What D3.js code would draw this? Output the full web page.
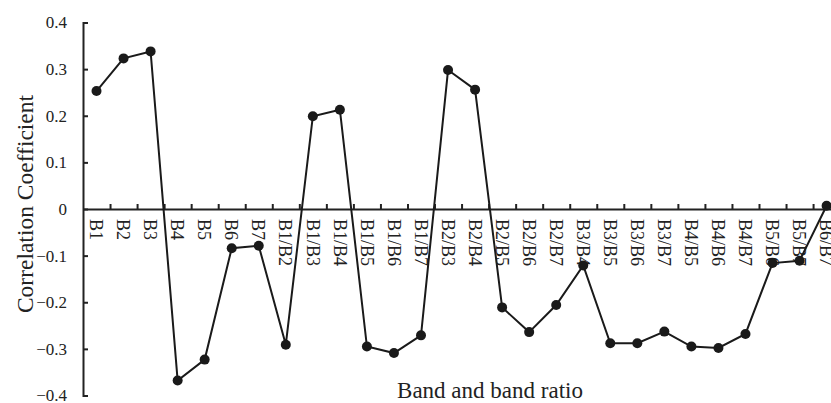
<!DOCTYPE html>
<html>
<head>
<meta charset="utf-8">
<script src="https://cdn.jsdelivr.net/npm/d3@7"></script>
<style>
  body { margin: 0; background: #fff; }
  svg { display: block; }
  text { font-family: "Liberation Serif", "Times New Roman", serif; fill: #222; }
  .axis path, .axis line { stroke: #222; stroke-width: 2; }
</style>
</head>
<body>
<script>
var categories = ["B1", "B2", "B3", "B4", "B5", "B6", "B7",
  "B1/B2", "B1/B3", "B1/B4", "B1/B5", "B1/B6", "B1/B7",
  "B2/B3", "B2/B4", "B2/B5", "B2/B6", "B2/B7",
  "B3/B4", "B3/B5", "B3/B6", "B3/B7",
  "B4/B5", "B4/B6", "B4/B7",
  "B5/B6", "B5/B7", "B6/B7"];
var values = [0.253, 0.323, 0.338, -0.368, -0.323, -0.084, -0.079,
  -0.291, 0.199, 0.213, -0.295, -0.309, -0.271,
  0.298, 0.256, -0.211, -0.264, -0.206,
  -0.121, -0.288, -0.288, -0.263,
  -0.295, -0.298, -0.268,
  -0.116, -0.111, 0.007];
var yTicks = [-0.4, -0.3, -0.2, -0.1, 0, 0.1, 0.2, 0.3, 0.4];

var width = 831, height = 403;
var left = 83, bandW = 27.04;

var svg = d3.select("body").append("svg")
  .attr("width", width)
  .attr("height", height);

var xScale = d3.scaleBand()
  .domain(categories)
  .range([left, left + categories.length * bandW])
  .padding(0);

var xEdges = d3.scaleLinear()
  .domain([0, categories.length])
  .range([left, left + categories.length * bandW]);

var yScale = d3.scaleLinear()
  .domain([-0.4, 0.4])
  .range([395.5, 22.5]);

// y axis, ticks pointing inward
svg.append("g")
  .attr("class", "y axis")
  .attr("transform", "translate(" + left + ",0)")
  .call(d3.axisLeft(yScale)
    .tickValues(yTicks)
    .tickSizeInner(-5)
    .tickSizeOuter(-5)
    .tickPadding(16)
    .tickFormat(function (d) { return d === 0 ? "0" : d3.format(".1f")(d); }))
  .selectAll("text")
  .style("font-family", "'Liberation Serif', serif")
  .style("font-size", "17px");

// boundary ticks on the zero line
svg.append("g")
  .attr("class", "x axis")
  .attr("transform", "translate(0," + yScale(0) + ")")
  .call(d3.axisBottom(xEdges)
    .tickValues(d3.range(1, categories.length + 1))
    .tickSizeInner(-5)
    .tickSizeOuter(0)
    .tickFormat(""));

// category labels, rotated
var xAxis = svg.append("g")
  .attr("class", "x axis labels")
  .attr("transform", "translate(0," + yScale(0) + ")")
  .call(d3.axisBottom(xScale).tickSize(0));
xAxis.select(".domain").remove();
xAxis.selectAll("text")
  .attr("transform", "rotate(90)")
  .attr("x", 10)
  .attr("y", 0)
  .attr("dy", "0.35em")
  .style("text-anchor", "start")
  .style("font-family", "'Liberation Serif', serif")
  .style("font-size", "18px");

var line = d3.line()
  .x(function (d, i) { return xScale(categories[i]) + xScale.bandwidth() / 2; })
  .y(function (d) { return yScale(d); });

svg.append("path")
  .datum(values)
  .attr("d", line)
  .attr("fill", "none")
  .attr("stroke", "#1a1a1a")
  .attr("stroke-width", 2);

svg.selectAll(".dot")
  .data(values)
  .enter().append("circle")
  .attr("class", "dot")
  .attr("cx", function (d, i) { return xScale(categories[i]) + xScale.bandwidth() / 2; })
  .attr("cy", function (d) { return yScale(d); })
  .attr("r", 5)
  .style("fill", "#1a1a1a");

svg.append("text")
  .attr("transform", "translate(33,204) rotate(-90)")
  .style("text-anchor", "middle")
  .style("font-size", "23.5px")
  .text("Correlation Coefficient");

svg.append("text")
  .attr("x", 490)
  .attr("y", 398)
  .style("text-anchor", "middle")
  .style("font-size", "23px")
  .text("Band and band ratio");
</script>
</body>
</html>
